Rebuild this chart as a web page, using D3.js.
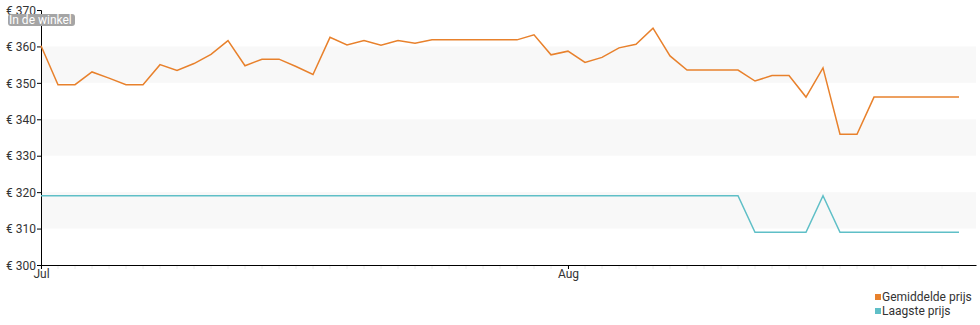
<!DOCTYPE html>
<html>
<head>
<meta charset="utf-8">
<script src="https://cdn.jsdelivr.net/npm/d3@7"></script>
<style>
  body { margin: 0; background: #fff; font-family: Roboto, sans-serif; }
  #chart { width: 980px; height: 325px; }
</style>
</head>
<body>
<div id="chart"></div>
<script>
const startDate = new Date(2023, 6, 1)
const endDate = new Date(2023, 7, 25)

const avgPrice = [
  360.2, 349.5, 349.5, 353, 351.3, 349.5, 349.5, 355, 353.4, 355.3,
  357.8, 361.6, 354.7, 356.5, 356.5, 354.5, 352.3, 362.5, 360.4, 361.6,
  360.3, 361.6, 360.9, 361.8, 361.8, 361.8, 361.8, 361.8, 361.8, 363.2,
  357.7, 358.7, 355.6, 357, 359.6, 360.6, 365, 357.4, 353.5, 353.5,
  353.5, 353.5, 350.5, 352, 352, 346.1, 354.1, 335.9, 335.9, 346.1,
  346.1, 346.1, 346.1, 346.1, 346.1
]
const lowPrice = [
  319, 319, 319, 319, 319, 319, 319, 319, 319, 319,
  319, 319, 319, 319, 319, 319, 319, 319, 319, 319,
  319, 319, 319, 319, 319, 319, 319, 319, 319, 319,
  319, 319, 319, 319, 319, 319, 319, 319, 319, 319,
  319, 319, 309, 309, 309, 309, 319, 309, 309, 309,
  309, 309, 309, 309, 309
]
const yTicks = [300, 310, 320, 330, 340, 350, 360, 370]
const bands = [[350, 360], [330, 340], [310, 320]]
const seriesNames = ["Gemiddelde prijs", "Laagste prijs"]
const seriesColors = ["#e8812c", "#5fbfc7"]

const width = 980
const height = 325
const plotLeft = 41, plotRight = 976, plotTop = 10, plotBottom = 265

const svg = d3.select("#chart").append("svg")
  .attr("width", width)
  .attr("height", height)

const days = avgPrice.map((d, i) => d3.timeDay.offset(startDate, i))

const xScale = d3.scaleTime()
  .domain([startDate, endDate])
  .range([plotLeft, plotRight])

const yScale = d3.scaleLinear()
  .domain([300, 370])
  .range([plotBottom, plotTop])

// shaded bands
svg.append("g")
  .selectAll("rect")
  .data(bands)
  .enter()
  .append("rect")
    .attr("x", plotLeft)
    .attr("width", plotRight - plotLeft)
    .attr("y", d => yScale(d[1]))
    .attr("height", d => yScale(d[0]) - yScale(d[1]))
    .attr("fill", "#f8f8f8")

// minor day ticks
svg.append("g")
  .selectAll("line")
  .data(d3.timeDay.range(startDate, endDate))
  .enter()
  .append("line")
    .attr("x1", d => xScale(d))
    .attr("x2", d => xScale(d))
    .attr("y1", plotBottom + 1)
    .attr("y2", plotBottom + 4)
    .attr("stroke", "#ececec")

// y axis
const yAxis = svg.append("g")
  .attr("transform", `translate(${plotLeft},0)`)
  .call(d3.axisLeft(yScale).tickValues(yTicks).tickSize(4).tickFormat(d => "€ " + d))
yAxis.select(".domain").attr("stroke", "#000")
yAxis.selectAll(".tick line").attr("stroke", "#000")
yAxis.selectAll("text")
  .attr("font-family", "Roboto, sans-serif")
  .attr("font-size", 12)
  .attr("fill", "#333")
  .attr("x", -5)
  .attr("dy", "0.35em")

// x axis
const xAxis = svg.append("g")
  .attr("transform", `translate(0,${plotBottom})`)
  .call(d3.axisBottom(xScale)
    .tickValues([new Date(2023, 6, 1), new Date(2023, 7, 1)])
    .tickSize(4)
    .tickSizeOuter(0)
    .tickFormat(d3.timeFormat("%b")))
xAxis.select(".domain").attr("stroke", "#000")
xAxis.selectAll(".tick line").attr("stroke", "#000")
xAxis.selectAll("text")
  .attr("font-family", "Roboto, sans-serif")
  .attr("font-size", 12)
  .attr("fill", "#333")
  .attr("y", 4)

const line = d3.line()
  .x((d, i) => xScale(days[i]))
  .y(d => yScale(d))

svg.append("path")
  .datum(lowPrice)
  .attr("d", line)
  .attr("fill", "none")
  .attr("stroke", seriesColors[1])
  .attr("stroke-width", 1.5)

svg.append("path")
  .datum(avgPrice)
  .attr("d", line)
  .attr("fill", "none")
  .attr("stroke", seriesColors[0])
  .attr("stroke-width", 1.5)

// label box
const lbl = svg.append("g")
lbl.append("rect")
  .attr("x", 8)
  .attr("y", 14)
  .attr("width", 67)
  .attr("height", 12)
  .attr("rx", 3)
  .attr("fill", "#a5a5a5")
lbl.append("text")
  .attr("x", 9)
  .attr("y", 24)
  .attr("font-size", 12)
  .attr("fill", "#fff")
  .text("In de winkel")

// legend
const legend = svg.append("g")
  .selectAll("g")
  .data(seriesNames)
  .enter()
  .append("g")
    .attr("transform", (d, i) => `translate(875,${293 + i * 14})`)
legend.append("rect")
  .attr("width", 6)
  .attr("height", 6)
  .attr("y", 1)
  .attr("fill", (d, i) => seriesColors[i])
legend.append("text")
  .attr("x", 7)
  .attr("y", 8)
  .attr("font-size", 12)
  .attr("fill", "#333")
  .text(d => d)
</script>
</body>
</html>
